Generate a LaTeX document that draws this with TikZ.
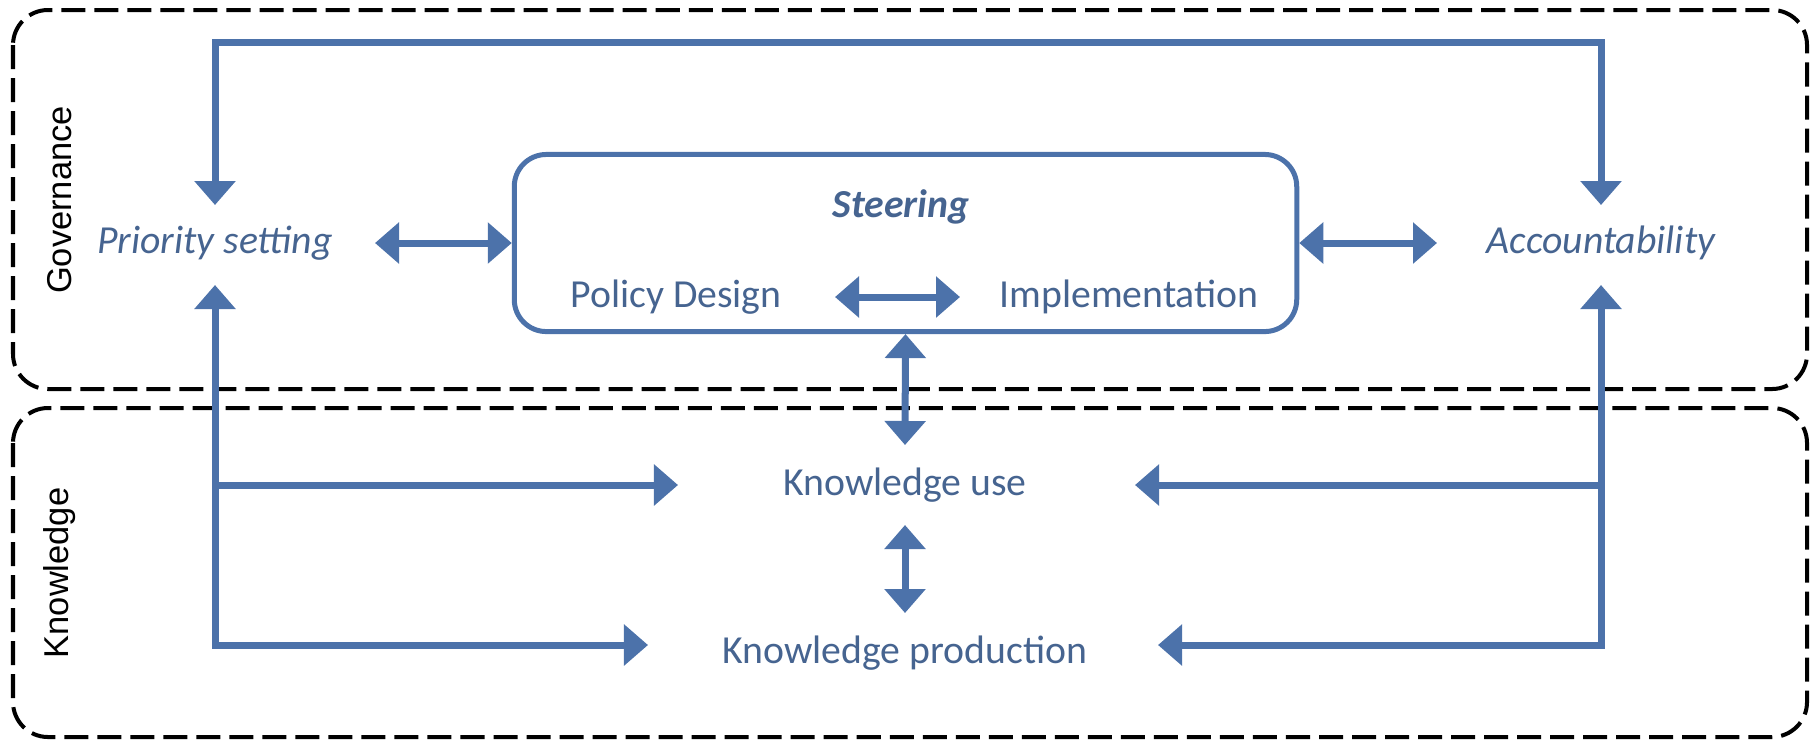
\documentclass[tikz,border=0pt]{standalone}
\usepackage{fontspec}
\setmainfont{Carlito}
\newfontfamily\lanefont{Liberation Sans}
\usetikzlibrary{arrows.meta,calc}
\definecolor{flow}{RGB}{76,114,170}
\definecolor{flowtext}{RGB}{70,100,144}
\begin{document}
\begin{tikzpicture}[x=0.01cm,y=-0.01cm,
  lane/.style={draw=black, line width=0.04cm, dash pattern=on 0.24cm off 0.09cm, rounded corners=0.35cm},
  link/.style={draw=flow, line width=0.07cm, -{Triangle[width=0.4cm,length=0.24cm]}},
  dlink/.style={draw=flow, line width=0.07cm, {Triangle[width=0.4cm,length=0.24cm]}-{Triangle[width=0.4cm,length=0.24cm]}},
  lbl/.style={text=flowtext, font=\fontsize{11.3}{13}\selectfont, inner sep=0pt},
  ilbl/.style={text=flowtext, font=\fontsize{11.3}{13}\selectfont\itshape, inner sep=0pt},
  blbl/.style={text=flowtext, font=\fontsize{11.3}{13}\selectfont\bfseries\itshape, inner sep=0pt},
  lanelbl/.style={font=\lanefont\fontsize{9.8}{12}\selectfont, rotate=90, inner sep=0pt},
  stbox/.style={draw=flow, line width=0.05cm, rounded corners=0.32cm, inner sep=0pt,
    minimum width=7.82cm, minimum height=1.77cm}
]
\useasboundingbox (0,0) rectangle (1816,741);

% the two lanes
\draw[lane] (13,10) rectangle (1807,389);
\draw[lane] (13,408) rectangle (1807,737);
\node[lanelbl] (govlbl) at (60,200) {Governance};
\node[lanelbl] (knowlbl) at (60,573) {Knowledge};

% nodes
\node[stbox] (steer) at (905.5,243) {};
\node[blbl] (steertxt) at (901,207) {Steering};
\node[lbl] (pd) at (676,297) {Policy Design};
\node[lbl] (impl) at (1129,297) {Implementation};
\node[ilbl] (prio) at (215,243) {Priority setting};
\node[ilbl] (acc) at (1601,243) {Accountability};
\node[lbl] (ku) at (905,485) {Knowledge use};
\node[lbl] (kp) at (905,653) {Knowledge production};

% routing points
\coordinate (topy) at (0,42);
\coordinate (kpin) at ($(kp)+(-257,-8)$);
\coordinate (kpout) at ($(kp)+(253,-8)$);

% top loop
\draw[dlink] ($(prio)+(0,-38)$) -- (prio |- topy) -- (acc |- topy) -- ($(acc)+(0,-38)$);

% steering links
\draw[dlink] ($(prio)+(160,0)$) -- (steer.west);
\draw[dlink] (steer.east) -- ($(acc)+(-164,0)$);
\draw[dlink] ($(pd)+(159,0)$) -- ($(impl)+(-169,0)$);
\draw[dlink] (steer.south) -- ($(ku)+(0,-40)$);
\draw[dlink] ($(ku)+(0,40)$) -- ($(kp)+(0,-40)$);

% feedback from the knowledge lane
\draw[dlink] ($(prio)+(0,42)$) -- (prio |- kpin) -- (kpin);
\draw[link] (prio |- ku) -- ($(ku)+(-227,0)$);
\draw[dlink] ($(acc)+(0,42)$) -- (acc |- kpout) -- (kpout);
\draw[link] (acc |- ku) -- ($(ku)+(230,0)$);
\end{tikzpicture}
\end{document}
